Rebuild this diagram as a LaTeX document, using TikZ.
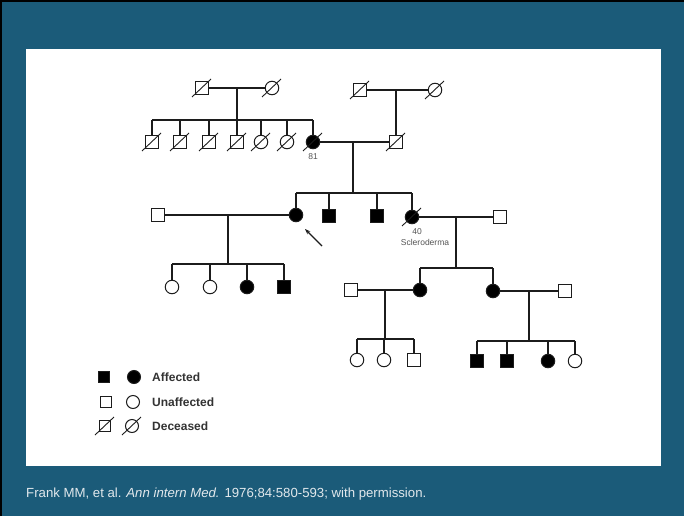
\documentclass[tikz,border=0pt]{standalone}
\usepackage{fontspec}
\setmainfont{Liberation Sans}
\usetikzlibrary{arrows.meta,calc}
\definecolor{bgteal}{RGB}{27,91,121}
\definecolor{ink}{RGB}{28,28,28}
\definecolor{foot}{RGB}{225,232,236}
\newcommand\deadmark[1]{\draw[slashline] ($(#1.center)+(-10pt,-9pt)$) -- ($(#1.center)+(9pt,9pt)$);}
\begin{document}
\begin{tikzpicture}[x=1pt,y=-1pt,
  sq/.style={rectangle,draw=ink,line width=1pt,minimum size=12.5pt,inner sep=0pt,fill=white},
  ci/.style={circle,draw=ink,line width=1pt,minimum size=13.5pt,inner sep=0pt,fill=white},
  aff/.style={fill=black},
  slashline/.style={draw=ink,line width=0.9pt},
  ped/.style={draw=ink,line width=1.2pt},
  small/.style={font=\fontsize{8.5}{9}\selectfont,text=ink!75,inner sep=0pt},
  legtext/.style={font=\fontsize{12}{13}\selectfont\bfseries,text=ink!90,anchor=west,inner sep=0pt}]
\useasboundingbox (0,0) rectangle (684,516);
\fill[bgteal] (0,0) rectangle (684,516);
\draw[black,line width=1.5pt] (1,516) -- (1,1) -- (684,1);
\fill[white] (26,49) rectangle (661,466);

% generation I
\node[sq] (I1) at (202,88) {};
\node[ci] (I2) at (272,88) {};
\node[sq] (I3) at (360,90) {};
\node[ci] (I4) at (435,90) {};
% generation II
\node[sq] (II1) at (152,142) {};
\node[sq] (II2) at (180,142) {};
\node[sq] (II3) at (209,142) {};
\node[sq] (II4) at (237,142) {};
\node[ci] (II5) at (261,142) {};
\node[ci] (II6) at (287,142) {};
\node[ci,aff] (II7) at (313,142) {};
\node[sq] (II8) at (396,142) {};
\node[small] (lab81) at (313,157) {81};
% generation III
\node[sq] (III0) at (158,215) {};
\node[ci,aff] (III1) at (296,215) {};
\node[sq,aff] (III2) at (329,216) {};
\node[sq,aff] (III3) at (377,216) {};
\node[ci,aff] (III4) at (412,217) {};
\node[sq] (III5) at (500,217) {};
\node[small] (lab40) at (417,232) {40};
\node[small] (labscl) at (425,242) {Scleroderma};
% generation IV
\node[ci] (IV1) at (172,287) {};
\node[ci] (IV2) at (210,287) {};
\node[ci,aff] (IV3) at (247,287) {};
\node[sq,aff] (IV4) at (284,287) {};
\node[sq] (IV5) at (351,290) {};
\node[ci,aff] (IV6) at (420,290) {};
\node[ci,aff] (IV7) at (493,291) {};
\node[sq] (IV8) at (565,291) {};
% generation V
\node[ci] (V1) at (357,360) {};
\node[ci] (V2) at (384,360) {};
\node[sq] (V3) at (414,360) {};
\node[sq,aff] (V4) at (477,361) {};
\node[sq,aff] (V5) at (507,361) {};
\node[ci,aff] (V6) at (548,361) {};
\node[ci] (V7) at (575,361) {};

% deceased marks
\foreach \n in {I1,I2,I3,I4,II1,II2,II3,II4,II5,II6,II7,II8,III4} {\deadmark{\n}}

% couple I1-I2 and sibship
\coordinate (m1) at (237,88);
\coordinate (s1) at (237,120);
\draw[ped] (I1) -- (I2);
\draw[ped] (m1) -- (s1);
\draw[ped] (II1.north |- s1) -- (II7.north |- s1);
\foreach \c in {II1,II2,II3,II4,II5,II6,II7} {\draw[ped] (\c) -- (\c |- s1);}
% couple I3-I4
\coordinate (m2) at (396,90);
\draw[ped] (I3) -- (I4);
\draw[ped] (m2) -- (II8);
% couple II7-II8
\coordinate (m3) at (353,142);
\coordinate (s3) at (353,193);
\draw[ped] (II7) -- (II8);
\draw[ped] (m3) -- (s3);
\draw[ped] (III1.north |- s3) -- (III4.north |- s3);
\foreach \c in {III1,III2,III3,III4} {\draw[ped] (\c) -- (\c |- s3);}
% couple III0-III1
\coordinate (m4) at (228,215);
\coordinate (s4) at (228,264);
\draw[ped] (III0) -- (III1);
\draw[ped] (m4) -- (s4);
\draw[ped] (IV1.north |- s4) -- (IV4.north |- s4);
\foreach \c in {IV1,IV2,IV3,IV4} {\draw[ped] (\c) -- (\c |- s4);}
% couple III4-III5
\coordinate (m5) at (456,217);
\coordinate (s5) at (456,268);
\draw[ped] (III4) -- (III5);
\draw[ped] (m5) -- (s5);
\draw[ped] (IV6.north |- s5) -- (IV7.north |- s5);
\foreach \c in {IV6,IV7} {\draw[ped] (\c) -- (\c |- s5);}
% couple IV5-IV6
\coordinate (m6) at (385,290);
\coordinate (s6) at (385,339);
\draw[ped] (IV5) -- (IV6);
\draw[ped] (m6) -- (s6);
\draw[ped] (V1.north |- s6) -- (V3.north |- s6);
\foreach \c in {V1,V2,V3} {\draw[ped] (\c) -- (\c |- s6);}
% couple IV7-IV8
\coordinate (m7) at (529,291);
\coordinate (s7) at (529,341);
\draw[ped] (IV7) -- (IV8);
\draw[ped] (m7) -- (s7);
\draw[ped] (V4.north |- s7) -- (V7.north |- s7);
\foreach \c in {V4,V5,V6,V7} {\draw[ped] (\c) -- (\c |- s7);}

% proband arrow
\coordinate (arrS) at (322,246);
\coordinate (arrE) at (305,229);
\draw[ped,line width=1.3pt,-{Stealth[length=5.5pt,width=4pt]}] (arrS) -- (arrE);

% legend
\node[sq,aff,minimum size=11pt] (L1) at (104,377) {};
\node[ci,aff,minimum size=13pt] (L2) at (134,377) {};
\node[legtext] (L3) at (152,377) {Affected};
\node[sq,minimum size=11pt] (L4) at (106,402) {};
\node[ci,minimum size=13pt] (L5) at (133,402) {};
\node[legtext] (L6) at (152,402) {Unaffected};
\node[sq,minimum size=11pt] (L7) at (105,426) {};
\node[ci,minimum size=13pt] (L8) at (132,426) {};
\node[legtext] (L9) at (152,426) {Deceased};
\deadmark{L7}
\deadmark{L8}

% footer
\node[anchor=west,inner sep=0pt,text=foot,font=\fontsize{13.2}{14}\selectfont] (cite) at (26,494)
  {Frank MM, et al. \textit{Ann intern Med.} 1976;84:580-593; with permission.};
\end{tikzpicture}
\end{document}
